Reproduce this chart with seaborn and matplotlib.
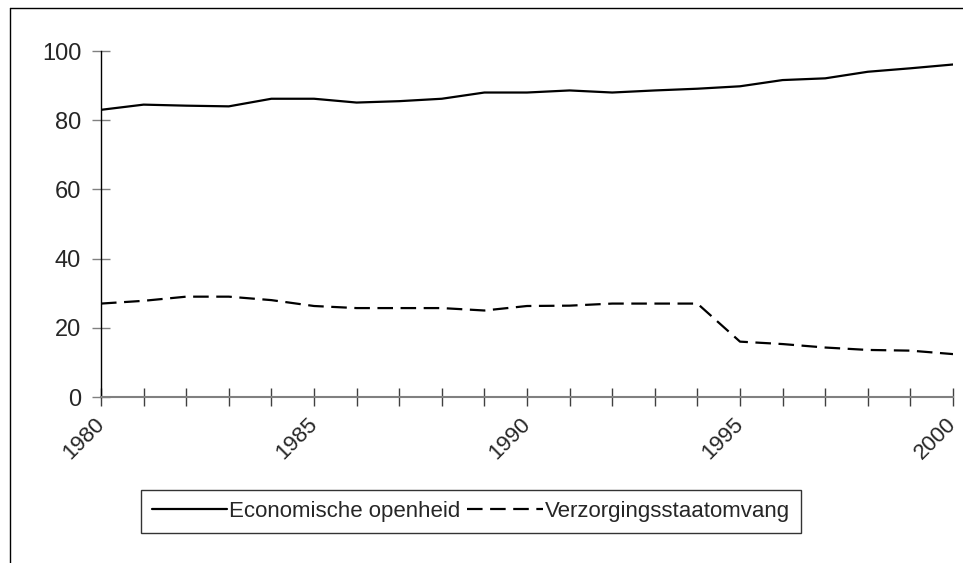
import matplotlib
matplotlib.use("Agg")
import matplotlib.pyplot as plt
import matplotlib.lines as mlines
import pandas as pd
import seaborn as sns

years = list(range(1980, 2001))
economische_openheid = [83, 84.5, 84.2, 84, 86.2, 86.2, 85.1, 85.5, 86.2, 88, 88,
                        88.6, 88, 88.6, 89.1, 89.8, 91.6, 92.1, 94, 95, 96.1]
verzorgingsstaat = [27, 27.8, 29, 29, 28, 26.3, 25.7, 25.7, 25.7, 25, 26.3,
                    26.4, 27, 27, 27, 16, 15.3, 14.3, 13.6, 13.4, 12.4]
label_years = [1980, 1985, 1990, 1995, 2000]
y_ticks = [0, 20, 40, 60, 80, 100]
series_names = ["Economische openheid", "Verzorgingsstaatomvang"]

df = pd.DataFrame({
    "jaar": years * 2,
    "waarde": economische_openheid + verzorgingsstaat,
    "reeks": [series_names[0]] * len(years) + [series_names[1]] * len(years),
})

sns.set_style("white")
plt.rcParams["font.family"] = ["Liberation Sans", "DejaVu Sans"]

fig = plt.figure(figsize=(9.63, 5.63), dpi=100)
ax = fig.add_axes([101 / 963, 1 - 397 / 563, 852 / 963, 346 / 563])

sns.lineplot(
    data=df, x="jaar", y="waarde", hue="reeks", style="reeks",
    palette=["black", "black"],
    dashes={series_names[0]: "", series_names[1]: (7, 3.4)},
    linewidth=1.6, legend=False, ax=ax,
)

ax.set_xlim(1980, 2000)
ax.set_ylim(0, 100)
ax.set_xlabel("")
ax.set_ylabel("")

ax.set_yticks(y_ticks)
ax.set_xticks(label_years)
ax.set_xticks(years, minor=True)
ax.set_xticklabels([str(y) for y in label_years], rotation=45,
                   ha="right", va="center", rotation_mode="anchor")

ax.tick_params(axis="y", which="major", direction="inout", length=12.5,
               width=1, color="#808080", labelsize=17, pad=8, left=True)
ax.tick_params(axis="x", which="both", direction="inout", length=12.5,
               width=1, color="#404040", labelsize=16, pad=11, bottom=True)

for side in ["top", "right"]:
    ax.spines[side].set_visible(False)
ax.spines["left"].set_color("black")
ax.spines["left"].set_linewidth(1)
ax.spines["bottom"].set_color("#808080")
ax.spines["bottom"].set_linewidth(1.5)

# legend below the plot
handles = [
    mlines.Line2D([], [], color="black", linewidth=1.6),
    mlines.Line2D([], [], color="black", linewidth=1.6, dashes=(7, 3.4)),
]
leg = fig.legend(
    handles, series_names, loc="center",
    bbox_to_anchor=(471 / 963, 1 - 511.5 / 563), ncol=2,
    frameon=True, fancybox=False, edgecolor="black", fontsize=16,
    handlelength=3.4, handletextpad=0.1, columnspacing=0.3,
    borderpad=0.5, borderaxespad=0,
)
leg.get_frame().set_linewidth(1)

# chart area border
fig.add_artist(mlines.Line2D([10 / 963, 10 / 963], [0, 1 - 8 / 563],
                             color="black", linewidth=1, transform=fig.transFigure))
fig.add_artist(mlines.Line2D([10 / 963, 1], [1 - 8 / 563, 1 - 8 / 563],
                             color="black", linewidth=1, transform=fig.transFigure))

fig.savefig("out.png", dpi=100)
plt.close(fig)
